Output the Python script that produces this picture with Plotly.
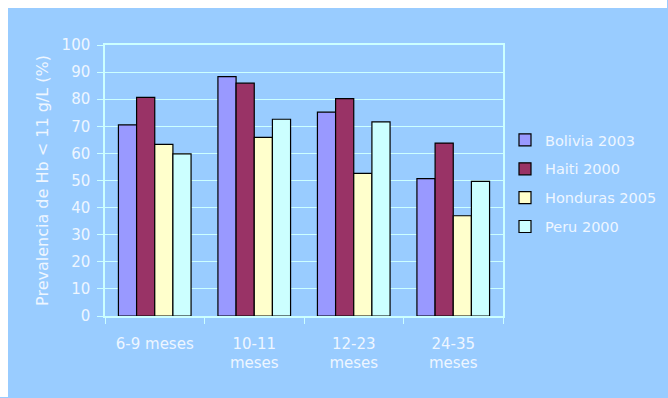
import plotly.graph_objects as go

# Age groups and anaemia prevalence (%) by country survey
categories = ["6-9 meses", "10-11<br>meses", "12-23<br>meses", "24-35<br>meses"]
bolivia_2003 = [70.5, 88.3, 75.2, 50.7]
haiti_2000 = [80.7, 85.9, 80.2, 63.8]
honduras_2005 = [63.3, 65.9, 52.6, 37.0]
peru_2000 = [59.8, 72.6, 71.6, 49.7]

series = [
    ("Bolivia 2003", bolivia_2003, "#9999FF"),
    ("Haiti 2000", haiti_2000, "#993366"),
    ("Honduras 2005", honduras_2005, "#FFFFCC"),
    ("Peru 2000", peru_2000, "#CCFFFF"),
]

BG = "#99CCFF"
GRID = "#CCFFFF"
TEXT = "#EEF6FF"
FONT = "DejaVu Sans"

W, H = 668, 398
L, R, T, B = 105, 165, 45, 82
pw, ph = W - L - R, H - T - B

def px_to_paper_x(px):
    return (px - L) / pw

def px_to_paper_y(py):
    return (H - B - py) / ph

fig = go.Figure()
for i, (name, vals, color) in enumerate(series):
    fig.add_trace(go.Bar(
        x=categories, y=vals, name=name, legendgroup=str(i),
        marker=dict(color=color, line=dict(color="black", width=1.2)),
    ))

# white strips along the left and top edges, kept 1px short of the far edges
for x0, x1, y0, y1 in [(0, 8, 0, H - 1), (0, W - 1, 0, 8)]:
    fig.add_shape(
        type="rect", xref="paper", yref="paper", layer="below",
        x0=px_to_paper_x(x0), x1=px_to_paper_x(x1),
        y0=px_to_paper_y(y1), y1=px_to_paper_y(y0),
        fillcolor="white", line=dict(width=0),
    )

fig.update_layout(
    width=W, height=H,
    margin=dict(l=L, r=R, t=T, b=B, autoexpand=False),
    paper_bgcolor=BG,
    plot_bgcolor=BG,
    barmode="group", bargap=0.27, bargroupgap=0,
    font=dict(family=FONT, size=15, color=TEXT),
    showlegend=True,
    legend=dict(
        x=px_to_paper_x(505), xanchor="left",
        y=px_to_paper_y(124), yanchor="top",
        bgcolor="rgba(0,0,0,0)", traceorder="grouped", tracegroupgap=7,
        font=dict(family=FONT, size=14.5, color=TEXT),
    ),
    xaxis=dict(
        showline=True, linecolor=GRID, linewidth=1.5, mirror=True,
        ticks="outside", tickson="boundaries", ticklen=6, tickcolor=GRID,
        showgrid=False, ticklabelstandoff=13,
        tickfont=dict(family=FONT, size=15, color=TEXT),
    ),
    yaxis=dict(
        range=[0, 100], dtick=10,
        showline=True, linecolor=GRID, linewidth=1.5, mirror=True,
        ticks="outside", ticklen=6, tickcolor=GRID,
        showgrid=True, gridcolor=GRID, gridwidth=1,
        zeroline=False, ticklabelstandoff=4,
        tickfont=dict(family=FONT, size=15, color=TEXT),
        title=dict(text="Prevalencia de Hb < 11 g/L (%)", standoff=9,
                   font=dict(family=FONT, size=16, color=TEXT)),
    ),
)

fig.write_html("out.html")
